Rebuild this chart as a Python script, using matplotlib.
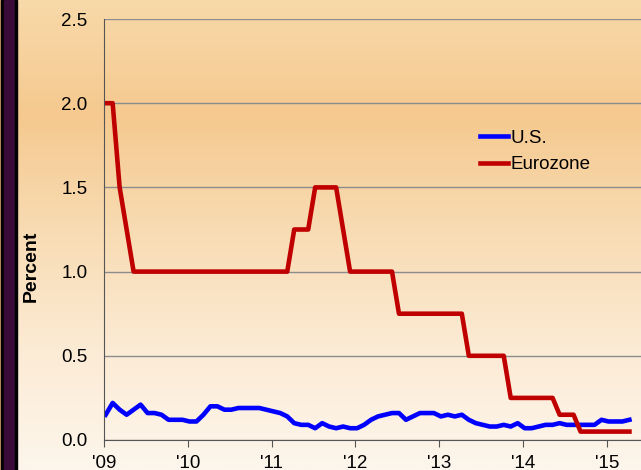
import numpy as np
import matplotlib
matplotlib.use('Agg')
import matplotlib.pyplot as plt
from matplotlib.colors import LinearSegmentedColormap

plt.rcParams['font.family'] = ['Liberation Sans', 'DejaVu Sans']

# monthly, Jan 2009 - Apr 2015
us = [0.15, 0.22, 0.18, 0.15, 0.18, 0.21, 0.16, 0.16, 0.15, 0.12, 0.12, 0.12,
      0.11, 0.11, 0.15, 0.20, 0.20, 0.18, 0.18, 0.19, 0.19, 0.19, 0.19, 0.18,
      0.17, 0.16, 0.14, 0.10, 0.09, 0.09, 0.07, 0.10, 0.08, 0.07, 0.08, 0.07,
      0.07, 0.09, 0.12, 0.14, 0.15, 0.16, 0.16, 0.12, 0.14, 0.16, 0.16, 0.16,
      0.14, 0.15, 0.14, 0.15, 0.12, 0.10, 0.09, 0.08, 0.08, 0.09, 0.08, 0.10,
      0.07, 0.07, 0.08, 0.09, 0.09, 0.10, 0.09, 0.09, 0.09, 0.09, 0.09, 0.12,
      0.11, 0.11, 0.11, 0.12]
euro = [2.0, 2.0, 1.5, 1.25, 1.0, 1.0, 1.0, 1.0, 1.0, 1.0, 1.0, 1.0,
        1.0, 1.0, 1.0, 1.0, 1.0, 1.0, 1.0, 1.0, 1.0, 1.0, 1.0, 1.0,
        1.0, 1.0, 1.0, 1.25, 1.25, 1.25, 1.5, 1.5, 1.5, 1.5, 1.25, 1.0,
        1.0, 1.0, 1.0, 1.0, 1.0, 1.0, 0.75, 0.75, 0.75, 0.75, 0.75, 0.75,
        0.75, 0.75, 0.75, 0.75, 0.5, 0.5, 0.5, 0.5, 0.5, 0.5, 0.25, 0.25,
        0.25, 0.25, 0.25, 0.25, 0.25, 0.15, 0.15, 0.15, 0.05, 0.05, 0.05, 0.05,
        0.05, 0.05, 0.05, 0.05]
years = [2009, 2010, 2011, 2012, 2013, 2014, 2015]
year_labels = ["'09", "'10", "'11", "'12", "'13", "'14", "'15"]

t = 2009.02 + np.arange(len(us)) / 12.0

fig = plt.figure(figsize=(6.41, 4.70), dpi=100)

# background gradient
bg = fig.add_axes([0, 0, 1, 1], zorder=0)
cmap = LinearSegmentedColormap.from_list('bg', [(0.0, '#F8D9A9'), (0.245, '#F5C98F'),
                                               (0.5, '#F8DCB4'), (0.75, '#FCEBD5'),
                                               (1.0, '#FDF6EC')])
grad = np.linspace(0, 1, 256).reshape(-1, 1)
bg.imshow(grad, aspect='auto', cmap=cmap, extent=[0, 1, 0, 1], origin='upper')
bg.axis('off')

# left dark strip
strip = fig.add_axes([0, 0, 1, 1], zorder=1, facecolor='none')
strip.axis('off')
strip.set_xlim(0, 641)
strip.set_ylim(0, 470)
strip.axvspan(0, 1.3, color='#D9A574')
strip.axvspan(1.3, 3.5, color='#000000')
strip.axvspan(3.5, 15, color='#3A0A38')
strip.axvspan(15, 16.5, color='#000000')

ax = fig.add_axes([104 / 641, 1 - 440 / 470, 1 - 104 / 641, (440 - 19) / 470], zorder=2)
ax.set_facecolor('none')
ax.plot(t, us, color='#0000FF', lw=3.3, label='U.S.', solid_joinstyle='round')
ax.plot(t, euro, color='#C00000', lw=3.3, label='Eurozone', solid_joinstyle='round')

ax.set_xlim(2009, 2009 + 537 / 83.8)
ax.set_ylim(0, 2.5)
ax.set_yticks(np.arange(0, 2.51, 0.5))
ax.set_yticklabels(['%.1f' % v for v in np.arange(0, 2.51, 0.5)])
ax.set_xticks(years)
ax.set_xticklabels(year_labels)
ax.grid(axis='y', color='#8C8C8C', lw=1)
ax.set_axisbelow(True)
for s in ['top', 'right']:
    ax.spines[s].set_visible(False)
for s in ['left', 'bottom']:
    ax.spines[s].set_color('#555555')
ax.tick_params(axis='y', length=0, pad=12, labelsize=13.5)
ax.tick_params(axis='x', length=5, color='#555555', pad=5.5, labelsize=13.5)
ax.set_ylabel('Percent', fontsize=14, fontweight='bold')
ax.yaxis.set_label_coords(-0.119, 0.413)

ax.legend(loc='center left', bbox_to_anchor=(0.70, 0.685), frameon=False, fontsize=13.5,
          handlelength=1.5, handletextpad=0.15, labelspacing=0.5, borderpad=0,
          borderaxespad=0)

fig.savefig('out.png', dpi=100)
